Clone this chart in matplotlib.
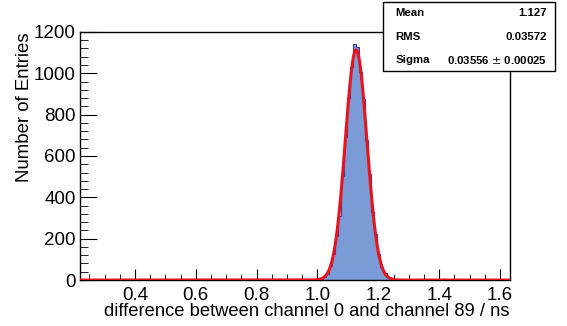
import numpy as np
import matplotlib.pyplot as plt
from matplotlib.patches import Rectangle
from matplotlib.ticker import MultipleLocator

plt.rcParams['font.family'] = ['Liberation Sans', 'DejaVu Sans']

# histogram: time difference between channel 0 and channel 89 (bin width 0.01 ns)
bin_lo = 0.987
bin_width = 0.01
counts = [1, 3, 7, 15, 30, 68, 128, 215, 310, 505, 690, 880, 1032, 1142,
          1129, 1005, 878, 676, 512, 330, 225, 125, 62, 33, 13, 6, 3, 1]

# gaussian fit parameters
fit_const = 1113.0
fit_mean = 1.127
fit_sigma = 0.03556
fit_sigma_err = 0.00025
hist_mean = 1.127
hist_rms = 0.03572

x_range = (0.219, 1.633)

edges = bin_lo + bin_width * np.arange(len(counts) + 1)

fig = plt.figure(figsize=(5.67, 3.26), dpi=100)
ax = fig.add_axes([0.141, 0.141, 0.7585, 0.761])

ax.stairs(counts, edges, fill=True, color='#7b9bd6', zorder=2)
ax.stairs(counts, edges, color='#3c3ca8', linewidth=0.8, zorder=3)

xf = np.linspace(x_range[0], x_range[1], 2000)
yf = fit_const * np.exp(-0.5 * ((xf - fit_mean) / fit_sigma) ** 2)
ax.plot(xf, yf, color='#e8141c', linewidth=2.2, zorder=4)

ax.set_xlim(*x_range)
ax.set_ylim(0, 1200)
ax.xaxis.set_major_locator(MultipleLocator(0.2))
ax.xaxis.set_minor_locator(MultipleLocator(0.05))
ax.yaxis.set_major_locator(MultipleLocator(200))
ax.yaxis.set_minor_locator(MultipleLocator(40))
ax.xaxis.set_major_formatter(plt.FuncFormatter(lambda v, p: f'{v:.1f}'))
ax.tick_params(which='both', direction='in', top=False, right=False, labelsize=13.5)
ax.tick_params(axis='y', which='major', length=12, pad=3)
ax.tick_params(axis='y', which='minor', length=6)
ax.tick_params(axis='x', which='major', length=8, pad=5)
ax.tick_params(axis='x', which='minor', length=4)
for s in ax.spines.values():
    s.set_linewidth(1.0)

fig.text(0.899, 0.043, 'difference between channel 0 and channel 89 / ns',
         ha='right', va='center', fontsize=13.2)
fig.text(0.044, 0.902, 'Number of Entries', rotation=90,
         ha='center', va='top', fontsize=13.4)

# statistics box
box = Rectangle((0.6755, 0.782), 0.3035, 0.212, transform=fig.transFigure,
                facecolor='white', edgecolor='black', linewidth=1.0, zorder=10)
fig.patches.append(box)
rows = [('Mean', f'{hist_mean:.3f}'),
        ('RMS', f'{hist_rms:.5f}'),
        ('Sigma', f'{fit_sigma:.5f} $\\pm$ {fit_sigma_err:.5f}')]
for i, (name, val) in enumerate(rows):
    y = 0.960 - i * 0.072
    fig.text(0.697, y, name, ha='left', va='center', fontsize=8.2,
             fontweight='bold', zorder=11)
    fig.text(0.965, y, val, ha='right', va='center', fontsize=8.2,
             fontweight='bold', zorder=11)

fig.savefig('out.png', dpi=100)
